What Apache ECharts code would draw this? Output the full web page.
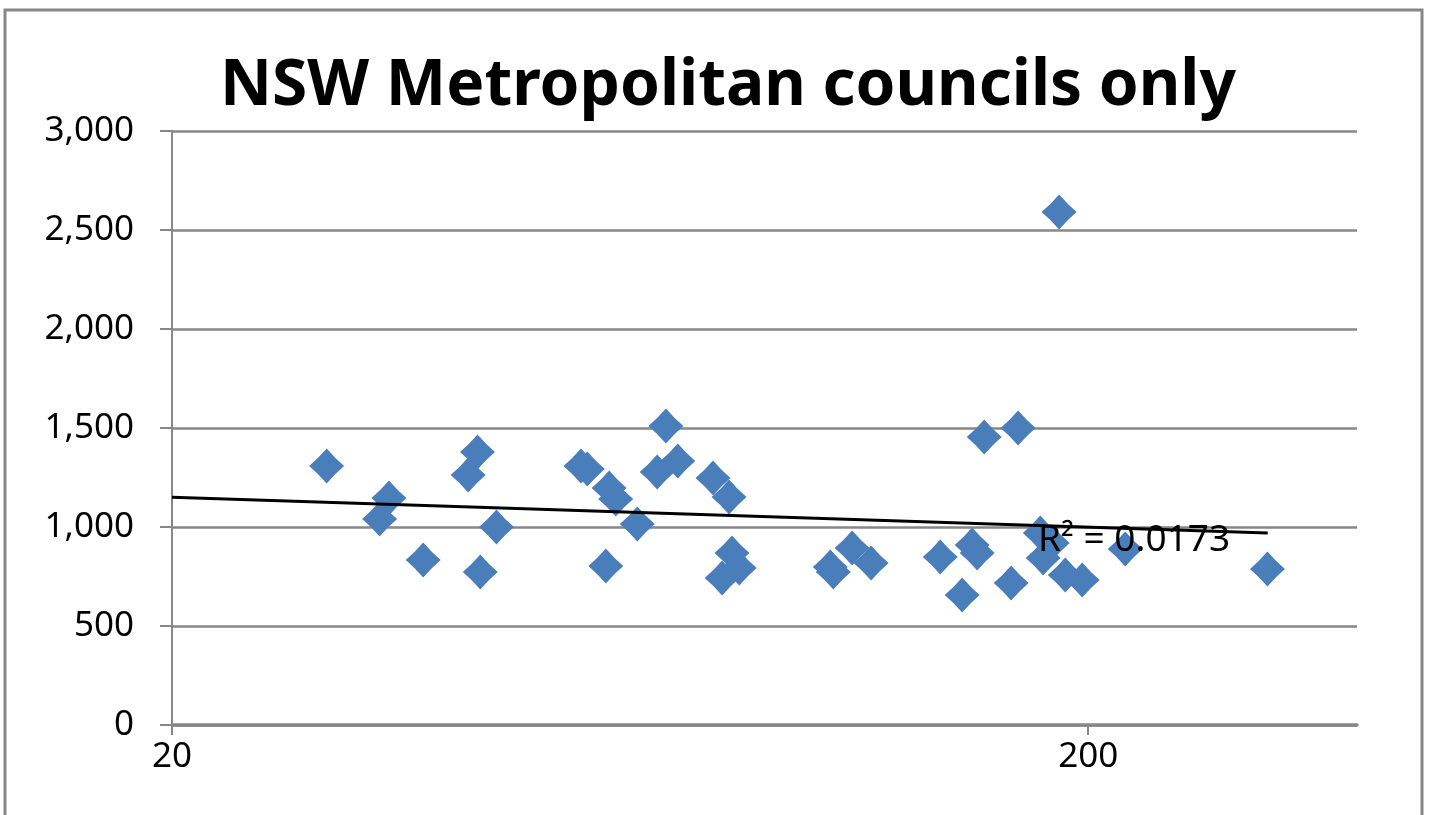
<!DOCTYPE html>
<html lang="en">
  <head>
    <meta charset="UTF-8" />
    <title>NSW Metropolitan councils only</title>
    <style>
      html,
      body {
        margin: 0;
        padding: 0;
        background: #fff;
      }

      main {
        width: 1433px;
        height: 815px;
      }
    </style>
  </head>

  <body>
    <main></main>
  </body>
</html>
<script src="https://cdn.jsdelivr.net/npm/echarts@6/dist/echarts.min.js"></script>
<script>
  // council points: [x, y]
  const councilX = [
    29.5, 33.7, 34.5, 37.6, 42.1, 43.1, 43.4, 45.2, 55.9, 56.8, 59.5, 60.0,
    61.0, 64.4, 67.7, 69.2, 71.3, 77.9, 79.7, 81.1, 81.7, 83.2, 104.6, 105.4,
    110.5, 115.9, 137.9, 145.7, 149.4, 151.3, 154.0, 164.8, 167.7, 177.3,
    182.7, 178.6, 185.9, 188.8, 197.0, 219.5, 313.8,
  ];
  const councilY = [
    1308, 1040, 1146, 833, 1263, 1379, 773, 1000, 1308, 1293, 803, 1197, 1141,
    1015, 1278, 1510, 1333, 1247, 742, 1152, 869, 793, 798, 773, 894, 818, 848,
    657, 909, 869, 1455, 717, 1500, 970, 919, 843, 2591, 758, 732, 889, 788,
  ];
  // trendline end points
  const trendX = [20, 314];
  const trendY = [1150, 970];
  const xTicks = [20, 200];
  const r2Text = "R\u00b2 = 0.0173";

  const grey = "#878787";
  // excel style diamond, sides pulled in a little
  const diamond =
    "path://M0,-10 Q4.6,-4.6 10,0 Q4.6,4.6 0,10 Q-4.6,4.6 -10,0 Q-4.6,-4.6 0,-10z";

  const chart = echarts.init(document.querySelector("main"));
  const option = {
    animation: false,
    title: {
      text: "NSW Metropolitan councils only",
      left: 215,
      top: 50,
      textStyle: {
        fontFamily: "Noto Sans",
        fontWeight: "bold",
        fontSize: 64,
        color: "#000",
      },
    },
    grid: { left: 172, right: 76, top: 131, bottom: 90 },
    graphic: [
      {
        type: "polyline",
        shape: { points: [[5, 830], [5, 10], [1422, 10], [1422, 830]] },
        style: { stroke: grey, lineWidth: 3, fill: null },
        silent: true,
      },
      {
        type: "text",
        left: 1038,
        top: 522,
        style: {
          text: r2Text,
          font: "37px 'Noto Sans'",
          fill: "#000",
        },
        z: 10,
      },
    ],
    xAxis: {
      type: "log",
      logBase: 10,
      min: 20,
      max: 393,
      axisLine: { show: true, lineStyle: { color: grey, width: 3.5 } },
      axisTick: {
        show: true,
        customValues: xTicks,
        length: 10,
        lineStyle: { color: grey, width: 2 },
      },
      axisLabel: {
        customValues: xTicks,
        margin: 15,
        color: "#000",
        fontFamily: "Noto Sans",
        fontSize: 35,
      },
      splitLine: { show: false },
      minorTick: { show: false },
    },
    yAxis: {
      type: "value",
      min: 0,
      max: 3000,
      interval: 500,
      axisLine: { show: true, lineStyle: { color: grey, width: 2 } },
      axisTick: { show: true, length: 12, lineStyle: { color: grey, width: 2 } },
      axisLabel: {
        margin: 38,
        color: "#000",
        fontFamily: "Noto Sans",
        fontSize: 35,
        formatter: (v) => v.toLocaleString("en-US"),
      },
      splitLine: { show: true, lineStyle: { color: grey, width: 2.5 } },
    },
    series: [
      {
        name: "councils",
        type: "scatter",
        symbol: diamond,
        symbolSize: 35,
        itemStyle: { color: "#4a7ebb", opacity: 1 },
        data: councilX.map((x, i) => [x, councilY[i]]),
        z: 3,
      },
      {
        name: "trend",
        type: "line",
        symbol: "none",
        lineStyle: { color: "#000", width: 3 },
        data: trendX.map((x, i) => [x, trendY[i]]),
        z: 4,
      },
    ],
  };
  chart.setOption(option);
</script>
